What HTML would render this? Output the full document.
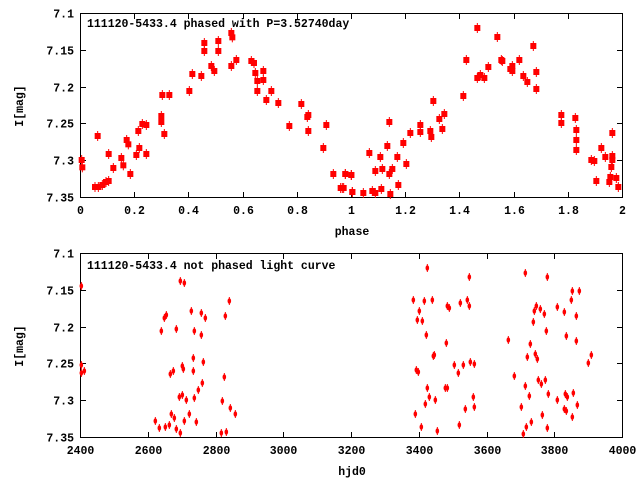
<!DOCTYPE html>
<html><head><meta charset="utf-8"><style>
html,body{margin:0;padding:0;background:#fff;width:640px;height:480px;overflow:hidden}
text{font-family:"Liberation Mono","DejaVu Sans Mono",monospace;font-weight:bold;font-size:11.5px;fill:#000}
</style></head><body>
<svg id="s" width="640" height="480" xmlns="http://www.w3.org/2000/svg">
<g stroke="#000" stroke-width="1" fill="none">
<rect x="80.5" y="13.5" width="542" height="184"/>
<rect x="80.5" y="253.5" width="542" height="184"/>
</g>
<g id="ax" stroke="#000" stroke-width="1"></g>
<g id="lb"></g>
<text x="87" y="27">111120-5433.4 phased with P=3.52740day</text>
<text x="87" y="269">111120-5433.4 not phased light curve</text>
<text x="352" y="235" text-anchor="middle">phase</text>
<text x="352" y="475" text-anchor="middle">hjd0</text>
<text transform="translate(23,106) rotate(-90)" text-anchor="middle">I[mag]</text>
<text transform="translate(23,346) rotate(-90)" text-anchor="middle">I[mag]</text>
<g id="pts" fill="#f00" stroke="#f00"></g>
</svg>
<script>
(function(){
var ns="http://www.w3.org/2000/svg";
function el(p,t,a,txt){var e=document.createElementNS(ns,t);for(var k in a)e.setAttribute(k,a[k]);if(txt!==undefined)e.textContent=txt;document.getElementById(p).appendChild(e);}
var yl=["7.1","7.15","7.2","7.25","7.3","7.35"];
for(var o=0;o<2;o++){var tp=13+o*240,bt=tp+184;
 for(var i=0;i<6;i++){var y=Math.round(tp+i*36.8)+0.5;
  el("ax","line",{x1:80,x2:86,y1:y,y2:y});el("ax","line",{x1:617,x2:623,y1:y,y2:y});
  el("lb","text",{x:74,y:y+4,"text-anchor":"end"},yl[i]);}
 var n=o==0?11:9;
 for(var i=0;i<n;i++){var x=Math.round(80+i*542/(n-1))+0.5;
  el("ax","line",{x1:x,x2:x,y1:tp,y2:tp+6});el("ax","line",{x1:x,x2:x,y1:bt+1,y2:bt-5});
  var lab=o==0?(i==0?"0":i==10?"2":(i*0.2).toFixed(1)):String(2400+i*200);
  if(o==0&&i==5)lab="1";
  el("lb","text",{x:x,y:bt+17,"text-anchor":"middle"},lab);}
}
var A=[35,465,37,487,83,393,75,546,85,546,97,540,108,531,116,528,116,447,130,489,154,459,160,481,170,405,175,418,181,507,199,450,205,378,208,429,217,357,229,360,229,447,274,333,274,351,277,270,283,387,298,270,358,258,367,207,394,213,403,114,403,138,424,183,433,198,445,108,445,138,484,84,487,97,484,183,499,165,544,168,552,174,556,204,562,228,562,258,580,198,580,225,589,285,604,258,625,294,658,363,694,297,712,336,715,330,715,378,760,429,769,360,790,507,812,549,821,549,826,507,844,510,847,561];
var B=[7,549,16,507,34,510,37,561,70,564,97,558,106,564,88,444,106,498,121,456,124,552,127,492,142,423,148,351,148,507,151,567,157,492,172,456,175,540,190,414,199,477,211,384,241,360,241,381,271,378,274,396,280,288,298,342,307,372,313,327,370,273,379,165,412,69,412,219,421,210,433,219,445,186,472,96,484,165,487,168,511,192,517,183,517,198,538,165,550,213,562,231,580,123,589,201,589,252,664,330,664,354,706,339,709,375,709,405,709,435,754,465,763,468,769,528,784,429,796,456,808,531,811,516,814,486,817,384,817,453,817,465,829,519,835,546];
var C=[34,123,34,360,34,384,43,378,331,108,343,114,478,168,364,198,394,204,406,219,466,213,283,219,289,210,274,258,319,252,373,258,394,270,370,339,400,351,337,363,340,372,370,378,310,378,301,387,463,396,397,414,385,435,337,450,328,456,349,465,373,459,457,468,481,489,496,507,304,507,358,507,313,519,256,528,343,528,379,531,298,540,286,546,268,549,319,552,331,564,454,564,469,561];
var D=[172,69,298,96,130,165,163,168,187,165,292,165,271,174,232,183,238,189,298,183,148,198,142,225,157,228,169,270,229,294,193,330,190,333,253,360,280,360,301,351,313,357,139,375,145,381,265,384,172,429,226,429,232,429,178,456,196,465,310,456,166,477,313,486,286,492,136,507,154,546,202,558,268,540,466,84,532,96,607,138,628,138,604,165,499,183,493,198,511,192,562,186,583,201,523,207,619,213,490,231,529,258,589,273,415,285,619,288,481,297,496,327,472,336,502,342,664,330,655,354,433,393,505,405,526,405,514,417,466,423,535,447,586,447,610,444,592,456,478,453,562,465,622,480,454,486,583,492,589,498,517,510,607,516,484,531,469,546,532,549,460,567];
function sq(arr,ox,oy){for(var i=0;i<arr.length;i+=2){var x=ox+arr[i]/3,y=oy+arr[i+1]/3;
 el("pts","rect",{x:x-3,y:y-3,width:6,height:6,stroke:"none"});el("pts","line",{x1:x,x2:x,y1:y-5,y2:y+5,"stroke-width":1});}}
function ov(arr,ox,oy){for(var i=0;i<arr.length;i+=2){var x=ox+arr[i]/3,y=oy+arr[i+1]/3;
 el("pts","ellipse",{cx:x,cy:y,rx:1.8,ry:2.8,stroke:"none"});el("pts","line",{x1:x,x2:x,y1:y-4,y2:y+4,"stroke-width":1});}}
sq(A,70,5);sq(B,340,5);ov(C,70,245);ov(D,370,245);
})();
</script>
</body></html>
